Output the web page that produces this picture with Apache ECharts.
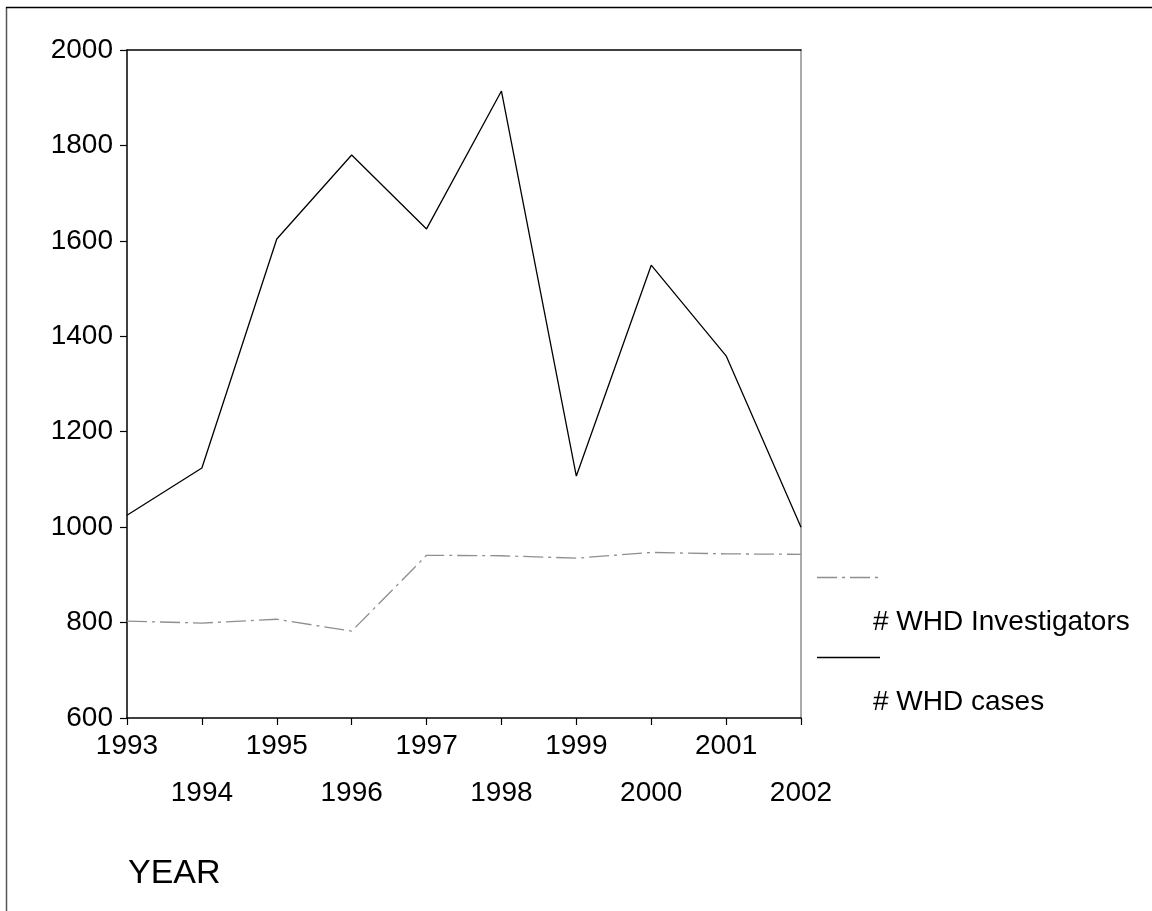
<!DOCTYPE html>
<html>
<head>
<meta charset="utf-8">
<script src="https://cdn.jsdelivr.net/npm/echarts@6/dist/echarts.min.js"></script>
<style>
html,body{margin:0;padding:0;background:#fff;}
#chart{width:1152px;height:911px;}
</style>
</head>
<body>
<div id="chart"></div>
<script>
const years = ['1993','1994','1995','1996','1997','1998','1999','2000','2001','2002'];
const investigators = [803, 799, 807, 782, 941, 940, 935, 947, 944, 943];
const cases = [1025, 1124, 1604, 1780, 1625, 1914, 1107, 1549, 1359, 1000];
const seriesNames = ['# WHD Investigators', '# WHD cases'];
const yTicks = { min: 600, max: 2000, interval: 200 };
const xAxisTitle = 'YEAR';

const FONT = '"Liberation Sans", Arial, sans-serif';
const GRAY = '#8f8f8f';

const chart = echarts.init(document.getElementById('chart'));
chart.setOption({
  animation: false,
  backgroundColor: '#fff',
  grid: { left: 127, right: 351, top: 50, bottom: 193, containLabel: false },
  xAxis: [{
    type: 'category', data: years, boundaryGap: false, position: 'bottom',
    axisLine: { lineStyle: { color: '#000', width: 1.5 } },
    axisTick: { show: true, length: 7, lineStyle: { color: '#000', width: 1.2 } },
    axisLabel: {
      interval: 0, color: '#000', fontFamily: FONT, fontSize: 28, lineHeight: 47, margin: 5,
      formatter: (v, i) => (i % 2 ? '\n' + v : v)
    },
    splitLine: { show: false }
  }, {
    type: 'category', data: years, boundaryGap: false, position: 'top',
    axisLine: { lineStyle: { color: '#000', width: 1.5 } },
    axisTick: { show: false }, axisLabel: { show: false }, splitLine: { show: false }
  }],
  yAxis: [{
    type: 'value', min: yTicks.min, max: yTicks.max, interval: yTicks.interval, position: 'left',
    axisLine: { show: true, lineStyle: { color: '#000', width: 1.5 } },
    axisTick: { show: true, length: 7, lineStyle: { color: '#000', width: 1.2 } },
    axisLabel: { color: '#000', fontFamily: FONT, fontSize: 28, margin: 14, formatter: v => String(v) },
    splitLine: { show: false }
  }, {
    type: 'value', min: yTicks.min, max: yTicks.max, interval: yTicks.interval, position: 'right',
    axisLine: { show: true, lineStyle: { color: GRAY, width: 1.5 } },
    axisTick: { show: false }, axisLabel: { show: false }, splitLine: { show: false }
  }],
  series: [{
    name: seriesNames[0], type: 'line', data: investigators, symbol: 'none',
    lineStyle: { color: GRAY, width: 1.3, type: [20, 5, 3, 5] }
  }, {
    name: seriesNames[1], type: 'line', data: cases, symbol: 'none',
    lineStyle: { color: '#000', width: 1.3, type: 'solid' }
  }],
  graphic: [
    { type: 'line', shape: { x1: 6.5, y1: 7, x2: 6.5, y2: 911 }, style: { stroke: '#555', lineWidth: 1.5 } },
    { type: 'line', shape: { x1: 6, y1: 7.5, x2: 1152, y2: 7.5 }, style: { stroke: '#000', lineWidth: 1.5 } },
    { type: 'line', shape: { x1: 817, y1: 577.5, x2: 880, y2: 577.5 }, style: { stroke: GRAY, lineWidth: 1.3, lineDash: [20, 5, 3, 5] } },
    { type: 'text', left: 873, top: 608, style: { text: seriesNames[0], font: '28px ' + FONT, fill: '#000' } },
    { type: 'line', shape: { x1: 817, y1: 657.5, x2: 880, y2: 657.5 }, style: { stroke: '#000', lineWidth: 1.3 } },
    { type: 'text', left: 873, top: 688, style: { text: seriesNames[1], font: '28px ' + FONT, fill: '#000' } },
    { type: 'text', left: 128, top: 857, style: { text: xAxisTitle, font: '34px ' + FONT, fill: '#000' } }
  ]
});
</script>
</body>
</html>
